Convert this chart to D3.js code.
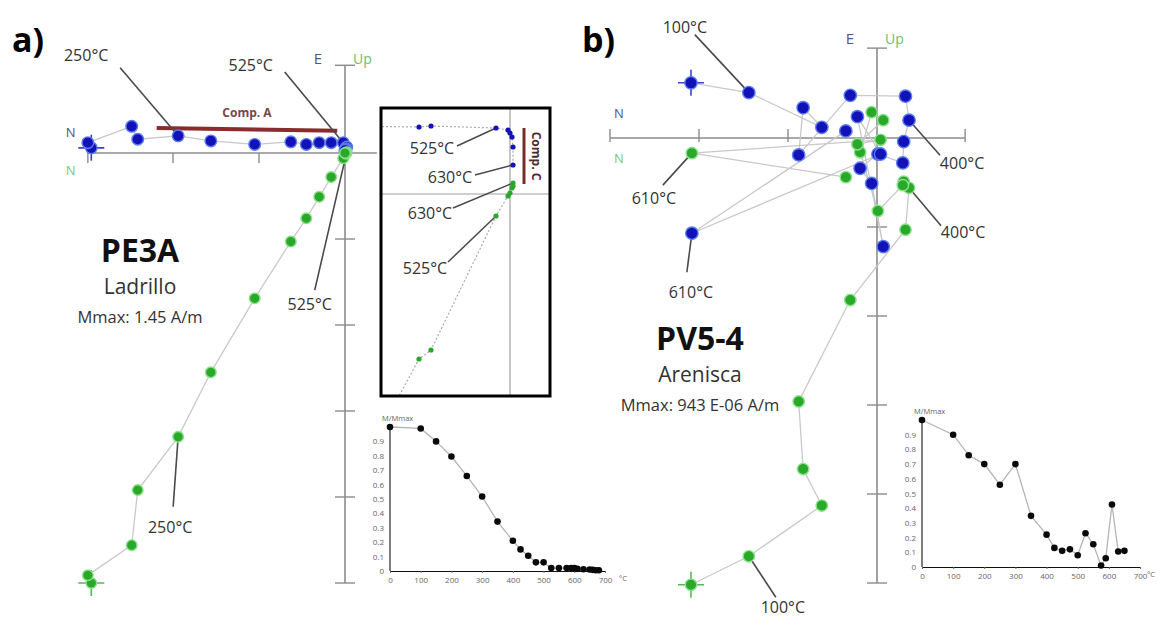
<!DOCTYPE html>
<meta charset="utf-8">
<style>
    body { margin:0; background:#fff; }
    svg { display:block; font-family:'Open Sans','Liberation Sans',sans-serif; }
</style>
<body>
<script src="https://cdn.jsdelivr.net/npm/d3@7/dist/d3.min.js"></script>
<script>
var width = 1158, height = 618;

// ---- a) PE3A, Ladrillo : thermal steps, components in axis-tick units ----
var pe3aSteps = [0, 100, 150, 200, 250, 300, 350, 400, 425, 450, 475, 500, 525, 550, 575, 600];
var pe3aNorth = [2.95, 2.99, 2.48, 2.41, 1.94, 1.56, 1.05, 0.63, 0.45, 0.30, 0.16, 0.02, -0.02, -0.01, -0.01, 0.00];
var pe3aEast  = [0.06, 0.12, 0.31, 0.16, 0.20, 0.14, 0.10, 0.13, 0.10, 0.12, 0.12, 0.12, 0.07, 0.05, 0.04, 0.03];
var pe3aUp    = [-5.00, -4.91, -4.56, -3.92, -3.30, -2.55, -1.69, -1.03, -0.76, -0.51, -0.28, -0.06, 0.01, 0.00, -0.01, 0.00];
var pe3aCompA = [[2.19, 0.29], [0.09, 0.26]];

// inset (zoom of the origin)
var insetSteps = [475, 500, 525, 550, 575, 600, 610, 630];
var insetNorth = [0.91, 0.79, 0.14, 0.02, 0.00, -0.02, -0.03, -0.03];
var insetEast  = [0.67, 0.68, 0.66, 0.64, 0.61, 0.57, 0.47, 0.29];
var insetUp    = [-1.65, -1.56, -0.22, -0.02, 0.01, 0.06, 0.08, 0.11];
var insetCompC = [[-0.14, 0.66], [-0.14, 0.10]];

var pe3aDemagT = [0, 100, 150, 200, 250, 300, 350, 400, 425, 450, 475, 500, 525, 550, 575, 590, 600, 610, 630, 650, 660, 670, 680];
var pe3aDemagM = [1.0, 0.99, 0.90, 0.795, 0.66, 0.517, 0.343, 0.21, 0.15, 0.106, 0.06, 0.06, 0.02, 0.02, 0.02, 0.02, 0.02, 0.015, 0.012, 0.01, 0.008, 0.005, 0.005];

// ---- b) PV5-4, Arenisca ----
var pv54Steps = [0, 100, 150, 200, 250, 300, 350, 400, 425, 450, 475, 500, 525, 550, 575, 590, 610, 630];
var pv54North = [2.09, 1.44, 0.62, 0.83, 0.88, 0.30, -0.32, -0.36, -0.30, -0.29, -0.01, 0.19, 0.06, -0.07, 0.22, -0.04, 2.08, 0.35];
var pv54East  = [0.62, 0.51, 0.12, 0.34, -0.19, 0.48, 0.47, 0.20, -0.04, -0.28, -0.18, -0.34, -0.51, -1.22, 0.24, -0.18, -1.07, 0.08];
var pv54Up    = [-5.02, -4.70, -4.13, -3.72, -2.96, -1.82, -1.03, -0.56, -0.49, -0.53, -0.82, -0.16, 0.29, 0.20, -0.07, -0.02, -0.17, -0.44];

var pv54DemagT = [0, 100, 150, 200, 250, 300, 350, 400, 425, 450, 475, 500, 525, 550, 575, 590, 610, 630, 650];
var pv54DemagM = [1.0, 0.90, 0.76, 0.70, 0.56, 0.70, 0.348, 0.22, 0.13, 0.11, 0.12, 0.08, 0.23, 0.155, 0.01, 0.06, 0.425, 0.105, 0.11];

var demagTicksT = [0, 100, 200, 300, 400, 500, 600, 700];
var demagTicksM = [0, 0.1, 0.2, 0.3, 0.4, 0.5, 0.6, 0.7, 0.8, 0.9];

var BLUE = "#1212b8", BLUE_HALO = "#5c7cf0";
var GREEN = "#2aa82a", GREEN_HALO = "#8be28b";
var AXIS = "#8c8c8c", TRACK = "#c9c9c9", LEADER = "#4a4a4a";

var svg = d3.select("body").append("svg")
    .attr("width", width)
    .attr("height", height);
svg.append("rect").attr("width", width).attr("height", height).attr("fill", "#fff");

function rows(steps, n, e, u) {
    return steps.map(function(t, i) { return {t: t, n: n[i], e: e[i], u: u[i]}; });
}

function zijderveld(cfg) {
    var g = svg.append("g");
    // north plotted to the left, east / up to the top
    var x = d3.scaleLinear().domain([0, 1]).range([cfg.ox, cfg.ox - cfg.unit]);
    var y = d3.scaleLinear().domain([0, 1]).range([cfg.oy, cfg.oy - cfg.unit]);
    var data = rows(cfg.steps, cfg.north, cfg.east, cfg.up);

    g.append("line")
        .attr("x1", x(cfg.nExtent[0])).attr("x2", x(cfg.nExtent[1]))
        .attr("y1", y(0)).attr("y2", y(0))
        .attr("stroke", AXIS).attr("stroke-width", 1.6);
    g.append("line")
        .attr("x1", x(0)).attr("x2", x(0))
        .attr("y1", y(cfg.vExtent[0])).attr("y2", y(cfg.vExtent[1]))
        .attr("stroke", AXIS).attr("stroke-width", 1.6);
    g.selectAll(".ht").data(cfg.hTicks).enter().append("line")
        .attr("x1", function(d) { return x(d); }).attr("x2", function(d) { return x(d); })
        .attr("y1", y(0) + cfg.hTick[0]).attr("y2", y(0) + cfg.hTick[1])
        .attr("stroke", AXIS).attr("stroke-width", 1.4);
    g.selectAll(".vt").data(cfg.vTicks).enter().append("line")
        .attr("x1", x(0) - 10).attr("x2", x(0) + 10)
        .attr("y1", function(d) { return y(d); }).attr("y2", function(d) { return y(d); })
        .attr("stroke", AXIS).attr("stroke-width", 1.4);

    // axis labels
    var top = y(cfg.vExtent[1]);
    g.append("text").attr("x", x(0) - 27).attr("y", top + cfg.eDy).text("E")
        .attr("font-size", 15).attr("fill", "#55557e").attr("text-anchor", "middle");
    g.append("text").attr("x", x(0) + 8).attr("y", top + cfg.eDy).text("Up")
        .attr("font-size", 14).attr("fill", "#6cbf6c");
    var left = x(cfg.nExtent[0]);
    g.append("text").attr("x", left + cfg.nDx).attr("y", y(0) + cfg.nDy[0]).text("N")
        .attr("font-size", 13).attr("fill", "#55557e");
    g.append("text").attr("x", left + cfg.nDx).attr("y", y(0) + cfg.nDy[1]).text("N")
        .attr("font-size", 13).attr("fill", "#7cc47c");

    // tracks
    g.append("path").datum(data)
        .attr("d", d3.line().x(function(d) { return x(d.n); }).y(function(d) { return y(d.e); }))
        .attr("fill", "none").attr("stroke", TRACK).attr("stroke-width", 1.3);
    g.append("path").datum(data)
        .attr("d", d3.line().x(function(d) { return x(d.n); }).y(function(d) { return y(d.u); }))
        .attr("fill", "none").attr("stroke", TRACK).attr("stroke-width", 1.3);

    if (cfg.comp) {
        g.append("line")
            .attr("x1", x(cfg.comp[0][0])).attr("y1", y(cfg.comp[0][1]))
            .attr("x2", x(cfg.comp[1][0])).attr("y2", y(cfg.comp[1][1]))
            .attr("stroke", "#8a2c2c").attr("stroke-width", 4);
        g.append("text")
            .attr("x", (x(cfg.comp[0][0]) + x(cfg.comp[1][0])) / 2)
            .attr("y", y(cfg.comp[0][1]) - 11)
            .attr("text-anchor", "middle").attr("font-size", 12).attr("font-weight", "bold")
            .attr("fill", "#7a4646").text("Comp. A");
    }

    // leaders and temperature labels
    cfg.notes.forEach(function(a) {
        var d = data[cfg.steps.indexOf(a.t)];
        var px = x(d.n), py = y(a.s === "e" ? d.e : d.u);
        g.append("line")
            .attr("x1", px + a.l[0]).attr("y1", py + a.l[1]).attr("x2", px).attr("y2", py)
            .attr("stroke", LEADER).attr("stroke-width", 1.6);
        g.append("text")
            .attr("x", px + a.p[0]).attr("y", py + a.p[1])
            .attr("text-anchor", "middle").attr("dominant-baseline", "central")
            .attr("font-size", 16).attr("fill", "#333").text(a.t + "°C");
    });

    // start crosshairs
    [["e", BLUE], ["u", GREEN]].forEach(function(s) {
        var d = data[0], px = x(d.n), py = y(d[s[0]]);
        g.append("path")
            .attr("d", "M" + (px - 13) + "," + py + "H" + (px + 13) + "M" + px + "," + (py - 13) + "V" + (py + 13))
            .attr("stroke", s[1]).attr("stroke-width", 1.6).attr("opacity", 0.8);
    });

    g.selectAll(".be").data(data).enter().append("circle")
        .attr("cx", function(d) { return x(d.n); })
        .attr("cy", function(d) { return y(d.e); })
        .attr("r", cfg.r)
        .attr("fill", BLUE).attr("stroke", BLUE_HALO).attr("stroke-width", 1.4);
    g.selectAll(".gu").data(data).enter().append("circle")
        .attr("cx", function(d) { return x(d.n); })
        .attr("cy", function(d) { return y(d.u); })
        .attr("r", cfg.r - 0.5)
        .attr("fill", GREEN).attr("stroke", GREEN_HALO).attr("stroke-width", 1.4);

    // sample name
    var t = g.append("g").attr("text-anchor", "middle").attr("fill", "#222");
    t.append("text").attr("x", cfg.name[0]).attr("y", cfg.name[1])
        .attr("font-size", 32).attr("font-weight", "bold").attr("fill", "#111").text(cfg.name[2]);
    t.append("text").attr("x", cfg.name[0]).attr("y", cfg.name[1] + 32)
        .attr("font-size", 21).attr("fill", "#333").text(cfg.name[3]);
    t.append("text").attr("x", cfg.name[0]).attr("y", cfg.name[1] + 61)
        .attr("font-size", 16.5).attr("fill", "#333").text(cfg.name[4]);
    return g;
}

function demag(ox, oy, w, h, T, M, unitDx) {
    var g = svg.append("g").attr("font-size", 7.5).attr("fill", "#555");
    var x = d3.scaleLinear().domain([0, 700]).range([ox, ox + w]);
    var y = d3.scaleLinear().domain([0, 1]).range([oy, oy - h]);
    var ax = g.append("g").attr("transform", "translate(0," + oy + ")")
        .call(d3.axisBottom(x).tickValues(demagTicksT).tickSize(2).tickSizeOuter(0));
    var ay = g.append("g").attr("transform", "translate(" + ox + ",0)")
        .call(d3.axisLeft(y).tickValues(demagTicksM).tickSize(0).tickPadding(6)
            .tickFormat(function(d) { return d === 0 ? "0" : d3.format(".1f")(d); }));
    [ax, ay].forEach(function(a) {
        a.attr("font-family", null).attr("font-size", 8);
        a.select(".domain").attr("stroke", "#111").attr("stroke-width", 1.1);
        a.selectAll(".tick line").attr("stroke", "#666");
        a.selectAll(".tick text").attr("fill", "#666");
    });
    ay.select(".domain").attr("d", "M0," + y(0) + "V" + y(1));
    ax.selectAll(".tick text").attr("dy", "0.9em");
    g.append("text").attr("x", x(700) + unitDx).attr("y", oy + 10).text("°C").attr("fill", "#666");
    g.append("text").attr("x", ox - 8).attr("y", y(1) - 6).text("M/Mmax").attr("fill", "#666");
    var pts = T.map(function(t, i) { return [t, M[i]]; });
    g.append("path").datum(pts)
        .attr("d", d3.line().x(function(d) { return x(d[0]); }).y(function(d) { return y(d[1]); }))
        .attr("fill", "none").attr("stroke", "#b5b5b5").attr("stroke-width", 1.3);
    g.selectAll("circle").data(pts).enter().append("circle")
        .attr("cx", function(d) { return x(d[0]); })
        .attr("cy", function(d) { return y(d[1]); })
        .attr("r", 3.3).attr("fill", "#0a0a0a");
}

// ---- panel a ----
zijderveld({
    ox: 345, oy: 153, unit: 86, r: 5.8,
    steps: pe3aSteps, north: pe3aNorth, east: pe3aEast, up: pe3aUp,
    nExtent: [2.99, -0.37], vExtent: [-5, 1.02],
    hTicks: [1, 2, 2.99], hTick: [0, 10], vTicks: [-1, -2, -3, -4, -5, 1.02],
    eDy: -1, nDx: -22, nDy: [-16, 22],
    comp: pe3aCompA,
    notes: [
        {t: 250, s: "e", l: [-58, -68], p: [-92, -81]},
        {t: 525, s: "e", l: [-62, -75], p: [-96, -82]},
        {t: 525, s: "u", l: [-32, 138], p: [-37, 152]},
        {t: 250, s: "u", l: [-5, 70], p: [-8, 90]}
    ],
    name: [140, 262, "PE3A", "Ladrillo", "Mmax: 1.45 A/m"]
});

// ---- panel b ----
zijderveld({
    ox: 877, oy: 138, unit: 89, r: 6.2,
    steps: pv54Steps, north: pv54North, east: pv54East, up: pv54Up,
    nExtent: [3, -0.99], vExtent: [-5, 1.01],
    hTicks: [1, 2, 3, -0.99], hTick: [-9, 4], vTicks: [-1, -2, -3, -4, -5, 1.01],
    eDy: -4, nDx: 4, nDy: [-20, 25],
    notes: [
        {t: 100, s: "e", l: [-54, -58], p: [-64, -66]},
        {t: 400, s: "e", l: [31, 35], p: [53, 43]},
        {t: 400, s: "u", l: [32, 38], p: [54, 44]},
        {t: 610, s: "u", l: [-29, 32], p: [-38, 45]},
        {t: 610, s: "e", l: [-5, 39], p: [-1, 59]},
        {t: 100, s: "u", l: [27, 41], p: [34, 51]}
    ],
    name: [700, 350, "PV5-4", "Arenisca", "Mmax: 943 E-06 A/m"]
});

// ---- inset of panel a ----
(function() {
    var bx = 381, by = 108, bw = 169, bh = 288;
    var g = svg.append("g");
    var x = d3.scaleLinear().domain([0, 1]).range([510, 410]);
    var y = d3.scaleLinear().domain([0, 1]).range([194, 94]);
    var data = rows(insetSteps, insetNorth, insetEast, insetUp);
    g.append("clipPath").attr("id", "inclip").append("rect")
        .attr("x", bx).attr("y", by).attr("width", bw).attr("height", bh);
    g.append("rect").attr("x", bx).attr("y", by).attr("width", bw).attr("height", bh).attr("fill", "#fff");
    var c = g.append("g").attr("clip-path", "url(#inclip)");
    c.append("line").attr("x1", x(0)).attr("x2", x(0)).attr("y1", by).attr("y2", by + bh)
        .attr("stroke", "#a0a0a0").attr("stroke-width", 1.2);
    c.append("line").attr("x1", bx).attr("x2", bx + bw).attr("y1", y(0)).attr("y2", y(0))
        .attr("stroke", "#a0a0a0").attr("stroke-width", 1.2);

    // fitted directions, extended to the box edge
    function ext(key) {
        var a = data[0], b = data[2], k = (a[key] - b[key]) / (a.n - b.n);
        return [{n: 1.6, v: a[key] + (1.6 - a.n) * k}].concat(data.map(function(d) { return {n: d.n, v: d[key]}; }));
    }
    ["e", "u"].forEach(function(key) {
        c.append("path").datum(ext(key))
            .attr("d", d3.line().x(function(d) { return x(d.n); }).y(function(d) { return y(d.v); }))
            .attr("fill", "none").attr("stroke", "#aaa").attr("stroke-width", 1.2)
            .attr("stroke-dasharray", "2,2");
    });

    c.append("line")
        .attr("x1", x(insetCompC[0][0])).attr("y1", y(insetCompC[0][1]))
        .attr("x2", x(insetCompC[1][0])).attr("y2", y(insetCompC[1][1]))
        .attr("stroke", "#7a2a2a").attr("stroke-width", 3);
    c.append("text")
        .attr("transform", "translate(" + (x(insetCompC[0][0]) + 8) + "," + y((insetCompC[0][1] + insetCompC[1][1]) / 2) + ") rotate(90)")
        .attr("text-anchor", "middle").attr("font-size", 12).attr("font-weight", "bold")
        .attr("fill", "#4a2a2a").text("Comp. C");

    [
        {t: 525, s: "e", l: [-39, 18], p: [-64, 20]},
        {t: 630, s: "e", l: [-38, 10], p: [-63, 12]},
        {t: 630, s: "u", l: [-60, 25], p: [-83, 30]},
        {t: 525, s: "u", l: [-48, 46], p: [-71, 52]}
    ].forEach(function(a) {
        var d = data[insetSteps.indexOf(a.t)];
        var px = x(d.n), py = y(a.s === "e" ? d.e : d.u);
        c.append("line").attr("x1", px + a.l[0]).attr("y1", py + a.l[1]).attr("x2", px).attr("y2", py)
            .attr("stroke", LEADER).attr("stroke-width", 1.5);
        c.append("text").attr("x", px + a.p[0]).attr("y", py + a.p[1])
            .attr("text-anchor", "middle").attr("dominant-baseline", "central")
            .attr("font-size", 16).attr("fill", "#333").text(a.t + "°C");
    });

    c.selectAll(".ib").data(data).enter().append("circle")
        .attr("cx", function(d) { return x(d.n); }).attr("cy", function(d) { return y(d.e); })
        .attr("r", 2.6).attr("fill", BLUE);
    c.selectAll(".ig").data(data).enter().append("circle")
        .attr("cx", function(d) { return x(d.n); }).attr("cy", function(d) { return y(d.u); })
        .attr("r", 2.6).attr("fill", GREEN);
    g.append("rect").attr("x", bx).attr("y", by).attr("width", bw).attr("height", bh)
        .attr("fill", "none").attr("stroke", "#000").attr("stroke-width", 3);
})();

demag(390, 571, 215, 144, pe3aDemagT, pe3aDemagM, 14);
demag(922, 567, 218, 147, pv54DemagT, pv54DemagM, 7);

svg.append("text").attr("x", 12).attr("y", 52).attr("font-size", 34).attr("font-weight", "bold").text("a)");
svg.append("text").attr("x", 582).attr("y", 52).attr("font-size", 34).attr("font-weight", "bold").text("b)");
</script>
</body>
